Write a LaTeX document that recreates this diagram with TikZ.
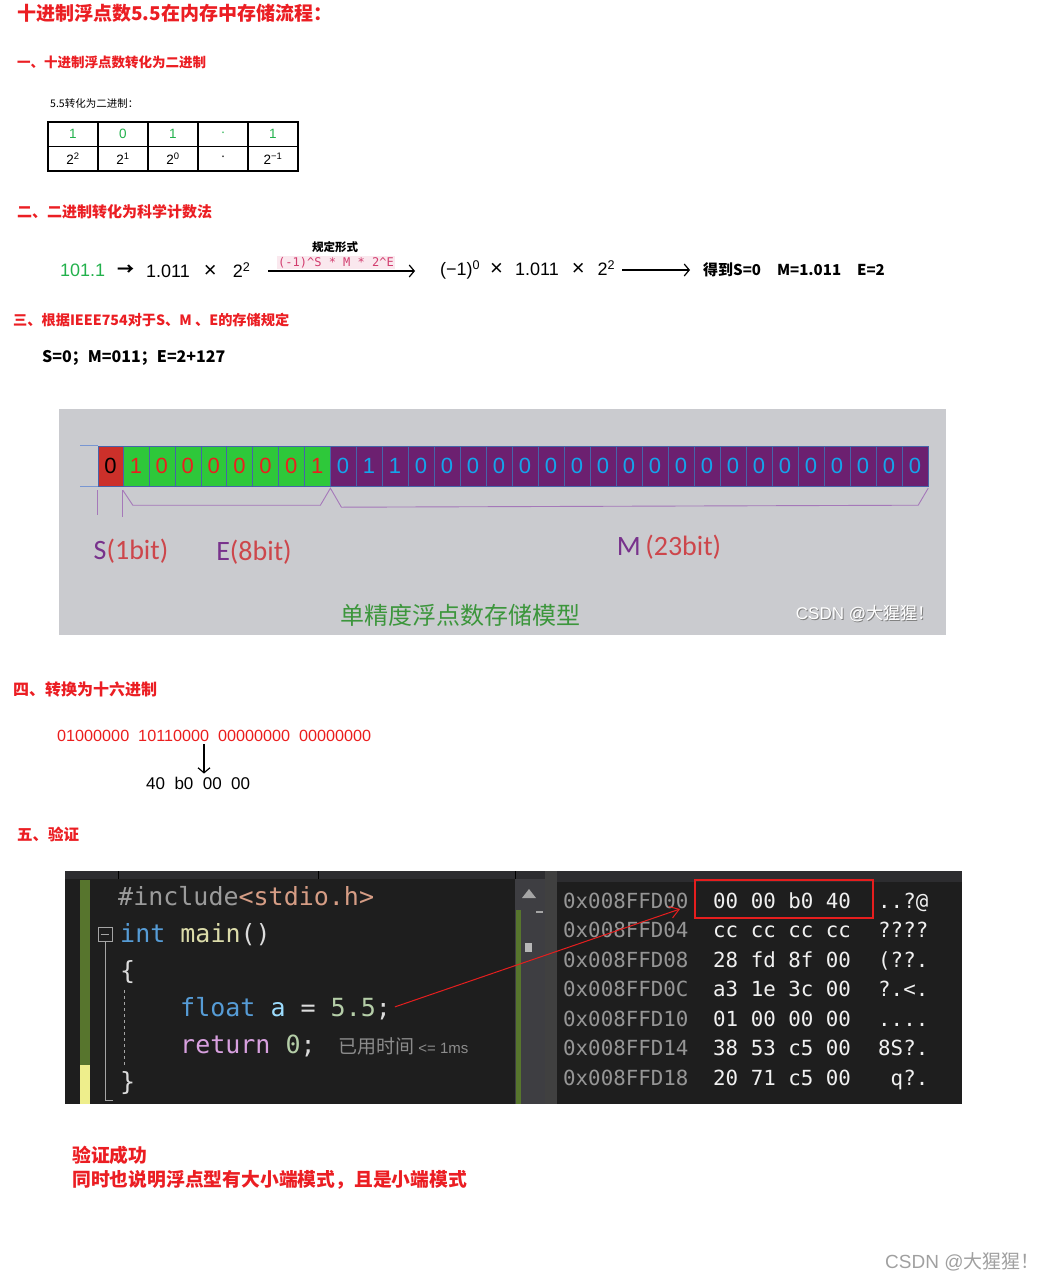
\documentclass[tikz,border=0pt]{standalone}
\usepackage{fontspec}
\setmainfont{Noto Sans CJK SC}
\newfontfamily\arialfont{Liberation Sans}
\newfontfamily\calfont{Carlito}
\setmonofont{DejaVu Sans Mono}
\usepackage{tikz}
\usetikzlibrary{arrows.meta, positioning}
\definecolor{headred}{RGB}{235,30,35}
\definecolor{numgreen}{RGB}{34,177,76}
\definecolor{pinkbg}{RGB}{250,232,238}
\definecolor{pinktext}{RGB}{210,60,110}
\definecolor{panelgray}{RGB}{202,203,207}
\definecolor{bitred}{RGB}{204,48,42}
\definecolor{bitgreen}{RGB}{46,200,58}
\definecolor{bitpurple}{RGB}{108,32,112}
\definecolor{bittxtred}{RGB}{235,30,30}
\definecolor{bitcyan}{RGB}{20,165,235}
\definecolor{cellline}{RGB}{70,100,170}
\definecolor{rowline}{RGB}{120,150,210}
\definecolor{brkpurple}{RGB}{165,120,185}
\definecolor{lblpurple}{RGB}{120,50,140}
\definecolor{lblred}{RGB}{205,70,75}
\definecolor{modelgreen}{RGB}{60,150,60}
\definecolor{codebg}{RGB}{30,30,30}
\definecolor{tabgray}{RGB}{45,45,48}
\definecolor{scrollgray}{RGB}{62,62,66}
\definecolor{gutgreen}{RGB}{87,117,45}
\definecolor{gutyellow}{RGB}{238,238,140}
\definecolor{foldgray}{RGB}{165,165,165}
\definecolor{cgray}{RGB}{155,155,155}
\definecolor{corange}{RGB}{214,157,133}
\definecolor{cblue}{RGB}{86,156,214}
\definecolor{cyellow}{RGB}{220,220,170}
\definecolor{cwhite}{RGB}{220,220,220}
\definecolor{clblue}{RGB}{156,220,254}
\definecolor{cnum}{RGB}{181,206,168}
\definecolor{cpink}{RGB}{216,160,223}
\definecolor{cdim}{RGB}{140,140,140}
\definecolor{addrgray}{RGB}{150,150,150}
\definecolor{memwhite}{RGB}{240,240,240}
\definecolor{boxred}{RGB}{230,30,30}
\definecolor{wmgray}{RGB}{160,160,160}
\newcommand\fsz[1]{\fontsize{#1}{#1}\selectfont}
\newcommand\bigtimes{{\fsz{22}×}}

\begin{document}
\begin{tikzpicture}[x=1pt, y=-1pt,
  head/.style={anchor=west, inner sep=0pt, text=headred, font=\fsz{#1}\bfseries},
  plain/.style={anchor=west, inner sep=0pt, font=\fsz{#1}},
  tcell/.style={draw=black, line width=1.6pt, minimum width=50pt, minimum height=24.5pt, inner sep=0pt, font=\arialfont\fsz{13.5}},
  bit/.style={draw=cellline, line width=0.4pt, minimum height=40pt, inner sep=0pt, font=\arialfont\fsz{22}},
  brk/.style={draw=brkpurple, line width=0.9pt},
  code/.style={anchor=base west, inner sep=0pt, font=\ttfamily\fsz{25}},
  mem/.style={anchor=base west, inner sep=0pt, font=\ttfamily\fsz{20.8}},
  arrow/.style={-{Straight Barb[length=5pt, width=12pt]}, line width=1.2pt}
]
\useasboundingbox (0,0) rectangle (1043,1280);

% Title and section 1
\node[head=19] (title) at (17,13) {十进制浮点数5.5在内存中存储流程：};
\node[head=13.5] (sec1) at (17,62) {一、十进制浮点数转化为二进制};
\node[plain=10.5] (tbllbl) at (50,104) {5.5转化为二进制：};

\node[tcell, text=numgreen] (d1) at (73,134.25) {1};
\node[tcell, text=numgreen] (d2) at (123,134.25) {0};
\node[tcell, text=numgreen] (d3) at (173,134.25) {1};
\node[tcell, text=numgreen] (d4) at (223,134.25) {·};
\node[tcell, text=numgreen] (d5) at (273,134.25) {1};
\node[tcell] (p1) at (73,158.75) {2\textsuperscript{2}};
\node[tcell] (p2) at (123,158.75) {2\textsuperscript{1}};
\node[tcell] (p3) at (173,158.75) {2\textsuperscript{0}};
\node[tcell] (p4) at (223,158.75) {·};
\node[tcell] (p5) at (273,158.75) {2\textsuperscript{−1}};

% Section 2
\node[head=15] (sec2) at (17,212) {二、二进制转化为科学计数法};
\node[plain=18, font=\arialfont\fsz{18}, text=numgreen] (bin) at (60,270) {101.1};
\node[plain=18, font=\fsz{17}\bfseries] (toarr) at (117,270) {→};
\node[plain=18, font=\arialfont\fsz{18}] (sci) at (146,270) {1.011\hspace{14pt}\bigtimes\hspace{16pt}2\textsuperscript{2}};
\node[plain=18, font=\arialfont\fsz{18}] (norm) at (440,270) {(−1)\textsuperscript{0}\hspace{10pt}\bigtimes\hspace{12pt}1.011\hspace{13pt}\bigtimes\hspace{13pt}2\textsuperscript{2}};
\node[plain=15, font=\fsz{15}\bfseries] (res) at (703,270) {得到S=0\hspace{16pt}M=1.011\hspace{16pt}E=2};
\draw[arrow] ([xshift=18pt, yshift=-1pt]sci.east) -- ([xshift=-25pt, yshift=-1pt]sci.east -| norm.west);
\draw[arrow] ([xshift=7pt]norm.east) -- ([xshift=-13pt]norm.east -| res.west);
\node[font=\fsz{11.5}\bfseries, inner sep=0pt] (rulelbl) at (335,247) {规定形式};
\node[fill=pinkbg, text=pinktext, font=\ttfamily\fsz{12}, inner sep=1.5pt] (rulefml) at (336,262.5) {(-1)\textasciicircum S * M * 2\textasciicircum E};

% Section 3
\node[head=14.2] (sec3) at (13,320) {三、根据IEEE754对于S、M 、E的存储规定};
\node[plain=16, font=\fsz{16}\bfseries] (sme) at (42,358) {S=0；M=011；E=2+127};

\fill[panelgray] (59,409) rectangle (946,635);
\node[bit, fill=bitred, minimum width=25pt] (s0) at (110.5,466) {0};
\foreach \b [count=\k] in {1,0,0,0,0,0,0,1}
  \node[bit, fill=bitgreen, text=bittxtred, minimum width=25.9pt] (e\k) at ({123+25.9*(\k-0.5)},466) {\b};
\foreach \b [count=\k] in {0,1,1,0,0,0,0,0,0,0,0,0,0,0,0,0,0,0,0,0,0,0,0}
  \node[bit, fill=bitpurple, text=bitcyan, minimum width=26pt] (m\k) at ({330+26*(\k-0.5)},466) {\b};
\draw[rowline, line width=0.8pt] (s0.north west) -- ++(-18,0);
\draw[rowline, line width=0.8pt] (s0.south west) -- ++(-18,0);
\draw[brk] ([yshift=-4pt]s0.south west) -- ++(0,25);
\draw[brk] ([yshift=-4pt]e1.south west) -- ++(0,27);
\draw[brk] ([yshift=-4pt]e1.south west) -- ++(10,15) -- ([xshift=-10pt,yshift=-19pt]e8.south east)
  -- ([yshift=-2pt]e8.south east) -- ++(11,19) -- ([xshift=-10pt,yshift=-19pt]m23.south east)
  -- ([yshift=-2pt]m23.south east);
\node[font=\calfont\fsz{28}, inner sep=0pt] (slbl) at (131,551) {\textcolor{lblpurple}{S}\textcolor{lblred}{(1bit)}};
\node[font=\calfont\fsz{28}, inner sep=0pt] (elbl) at (254,552) {\textcolor{lblpurple}{E}\textcolor{lblred}{(8bit)}};
\node[font=\calfont\fsz{28}, inner sep=0pt] (mlbl) at (669,547) {\textcolor{lblpurple}{M}\,\textcolor{lblred}{(23bit)}};
\node[font=\fsz{24}, text=modelgreen, inner sep=0pt] (model) at (460,615) {单精度浮点数存储模型};
\node[font=\fsz{17}, text=gray, inner sep=0pt] (wmshade) at (866,615) {{\arialfont CSDN @}大猩猩！};
\node[font=\fsz{17}, text=white, inner sep=0pt] (wmpanel) at (865,614) {{\arialfont CSDN @}大猩猩！};

% Section 4
\node[head=16] (sec4) at (13,689) {四、转换为十六进制};
\node[plain=16, font=\arialfont\fsz{16.2}, text=bittxtred] (binstr) at (57,736) {01000000\ \ 10110000\ \ 00000000\ \ 00000000};
\node[plain=17, font=\arialfont\fsz{17}] (hexstr) at (146,783) {40\ \ b0\ \ 00\ \ 00};
\coordinate (split) at (204,744);
\draw[arrow, shorten >=3pt] (split) -- (split |- hexstr.north);

% Section 5
\node[head=15.5] (sec5) at (17,834) {五、验证};

\fill[codebg] (65,871) rectangle (962,1104);
\fill[tabgray] (65,871) rectangle (545,879);
\draw[black, line width=1pt] (118,871) -- (118,879) (318,871) -- (318,879) (515,871) -- (515,879);
\fill[tabgray] (557,871) rectangle (962,882);
\fill[scrollgray] (515,879) rectangle (545,1104);
\fill[black!75] (545,871) rectangle (557,1104);
\fill[gutgreen] (80,880) rectangle (90,1065);
\fill[gutyellow] (80,1065) rectangle (90,1104);
\fill[gutgreen] (516,910) rectangle (521,1104);
\fill[foldgray] (522,898) -- (529,889) -- (536,898) -- cycle;
\fill[foldgray!80] (525,943) rectangle (532,952);
\draw[foldgray, line width=1.5pt] (536,912) -- (543,912);

\node[draw=foldgray, line width=0.8pt, minimum size=14pt, inner sep=0pt] (fold) at (105,934) {};
\draw[foldgray, line width=1pt] ([xshift=3pt]fold.west) -- ([xshift=-3pt]fold.east);
\draw[foldgray, line width=1pt] (fold.south) -- (105,1100) -- (113,1100);
\draw[foldgray, dashed, line width=0.8pt] (124,990) -- (124,1065);

\node[code, text=cgray] (incl) at (118,905) {\#include\textcolor{corange}{<stdio.h>}};
\node[code] (mainln) at (120,942) {\textcolor{cblue}{int} \textcolor{cyellow}{main}\textcolor{cwhite}{()}};
\node[code, text=cwhite] (lbrace) at (120,979) {\{};
\node[code] (floatln) at (180,1016) {\textcolor{cblue}{float} \textcolor{clblue}{a} \textcolor{cwhite}{=} \textcolor{cnum}{5.5}\textcolor{cwhite}{;}};
\node[code] (retln) at (180,1053) {\textcolor{cpink}{return} \textcolor{cnum}{0}\textcolor{cwhite}{;}};
\node[anchor=base west, inner sep=0pt, text=cdim, font=\fsz{19}] (elapsed) at (338,1053) {已用时间{\arialfont\fsz{15} <= 1ms}};
\node[code, text=cwhite] (rbrace) at (120,1090) {\}};

\foreach \addr/\hexv/\asc [count=\r] in {0x008FFD00/00 00 b0 40/{..?@}, 0x008FFD04/cc cc cc cc/{????},
  0x008FFD08/28 fd 8f 00/{(??.}, 0x008FFD0C/a3 1e 3c 00/{?.<.}, 0x008FFD10/01 00 00 00/{....},
  0x008FFD14/38 53 c5 00/{8S?.}, 0x008FFD18/20 71 c5 00/{\ q?.}}
{
  \node[mem, text=addrgray] (addr\r) at (563,{908+29.5*(\r-1)}) {\addr};
  \node[mem, text=memwhite] (hex\r) at (713,{908+29.5*(\r-1)}) {\hexv};
  \node[mem, text=memwhite] (asc\r) at (878,{908+29.5*(\r-1)}) {\asc};
}
\node[draw=boxred, line width=1.2pt, minimum width=178pt, minimum height=38pt, inner sep=0pt] (hit) at (784,899) {};
\coordinate (tip) at (680,909);
\draw[-{Straight Barb[length=9pt, width=12pt]}, boxred, line width=1pt, shorten <=4pt] (floatln.east) -- (tip);

% Conclusion
\node[head=18.8] (ok1) at (72,1155) {验证成功};
\node[head=18.8] (ok2) at (72,1180) {同时也说明浮点型有大小端模式，且是小端模式};
\node[font=\fsz{19}, text=wmgray, inner sep=0pt, anchor=west] (wmark) at (885,1262) {{\arialfont CSDN @}大猩猩！};
\end{tikzpicture}
\end{document}
